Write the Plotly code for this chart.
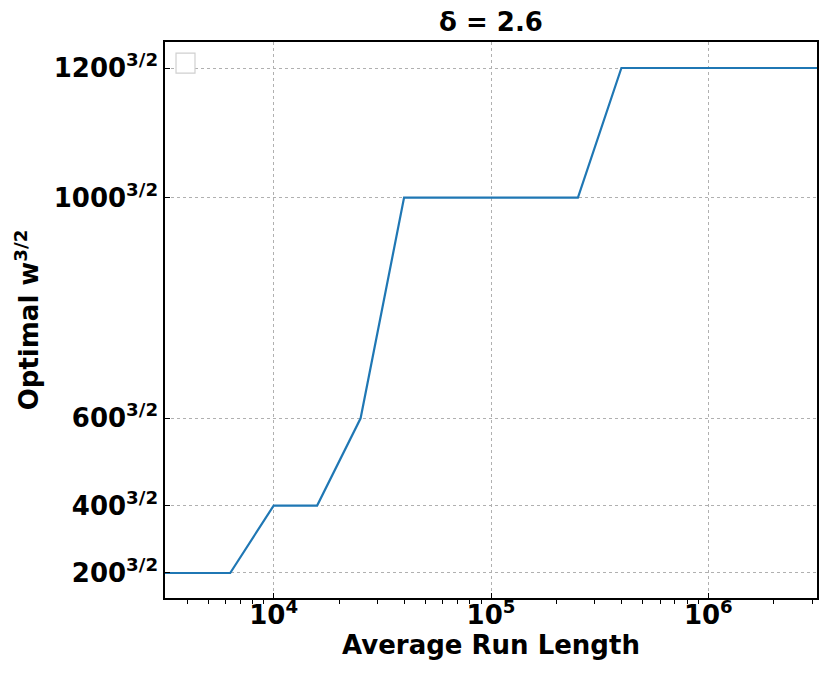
import plotly.graph_objects as go

# Data: vertices of the optimal-w step curve
arl = [10**3.5, 10**3.8, 10**4.0, 10**4.2, 10**4.4, 10**4.6, 10**5.4, 10**5.6, 10**6.5]
w_opt = [200, 200, 400, 400, 600, 1000, 1000, 1200, 1200]
y_vals = [w ** 1.5 for w in w_opt]

ytick_w = [200, 400, 600, 1000, 1200]
ytick_text = [f"{w}<sup>3/2</sup>" for w in ytick_w]
xtick_vals = [1e4, 1e5, 1e6]
xtick_text = ["10<sup>4</sup>", "10<sup>5</sup>", "10<sup>6</sup>"]
minor_x = [m * 10**d for d in range(3, 7) for m in range(2, 10)]

FONT = "DejaVu Sans"
W, H = 822, 668  # page has an 8px body margin

fig = go.Figure()
fig.add_trace(go.Scatter(x=arl, y=y_vals, mode="lines",
                         line=dict(color="#1f77b4", width=2.2), showlegend=False))

fig.update_layout(
    width=W, height=H,
    margin=dict(l=157, r=13, t=34, b=78),
    paper_bgcolor="white", plot_bgcolor="white",
    font=dict(family=FONT, color="black"),
    title=dict(text="<b>δ = 2.6</b>", x=(157 + W - 13) / 2 / W, xanchor="center",
               y=1 - 14 / H, yanchor="middle", font=dict(size=26, family=FONT)),
    shapes=[dict(type="rect", xref="paper", yref="paper",
                 x0=0.0169, x1=0.0460, y0=0.944, y1=0.980,
                 line=dict(color="#d0d0d0", width=1.2), fillcolor="white", layer="above")],
)

fig.update_xaxes(
    type="log", range=[3.5, 6.5],
    tickvals=xtick_vals, ticktext=xtick_text,
    tickfont=dict(size=26, family=FONT, weight="bold"),
    ticks="inside", ticklen=5, tickwidth=1.3, tickcolor="black",
    ticklabelstandoff=-7,
    minor=dict(tickvals=minor_x, ticks="outside", ticklen=4, tickwidth=1,
               tickcolor="black", showgrid=False),
    showgrid=True, gridcolor="#b0b0b0", griddash="dot", gridwidth=1,
    showline=True, linecolor="black", linewidth=1.5, mirror=True,
    title=dict(text="<b>Average Run Length</b>", font=dict(size=26, family=FONT), standoff=4),
    zeroline=False,
)
fig.update_yaxes(
    range=[910, 43564],
    tickvals=[w ** 1.5 for w in ytick_w], ticktext=ytick_text,
    tickfont=dict(size=26, family=FONT, weight="bold"),
    ticks="inside", ticklen=5, tickwidth=1.3, tickcolor="black",
    showgrid=True, gridcolor="#b0b0b0", griddash="dot", gridwidth=1,
    showline=True, linecolor="black", linewidth=1.5, mirror=True,
    title=dict(text="<b>Optimal w<sup>3/2</sup></b>", font=dict(size=26, family=FONT), standoff=8),
    zeroline=False,
)

fig.write_html("out.html")
